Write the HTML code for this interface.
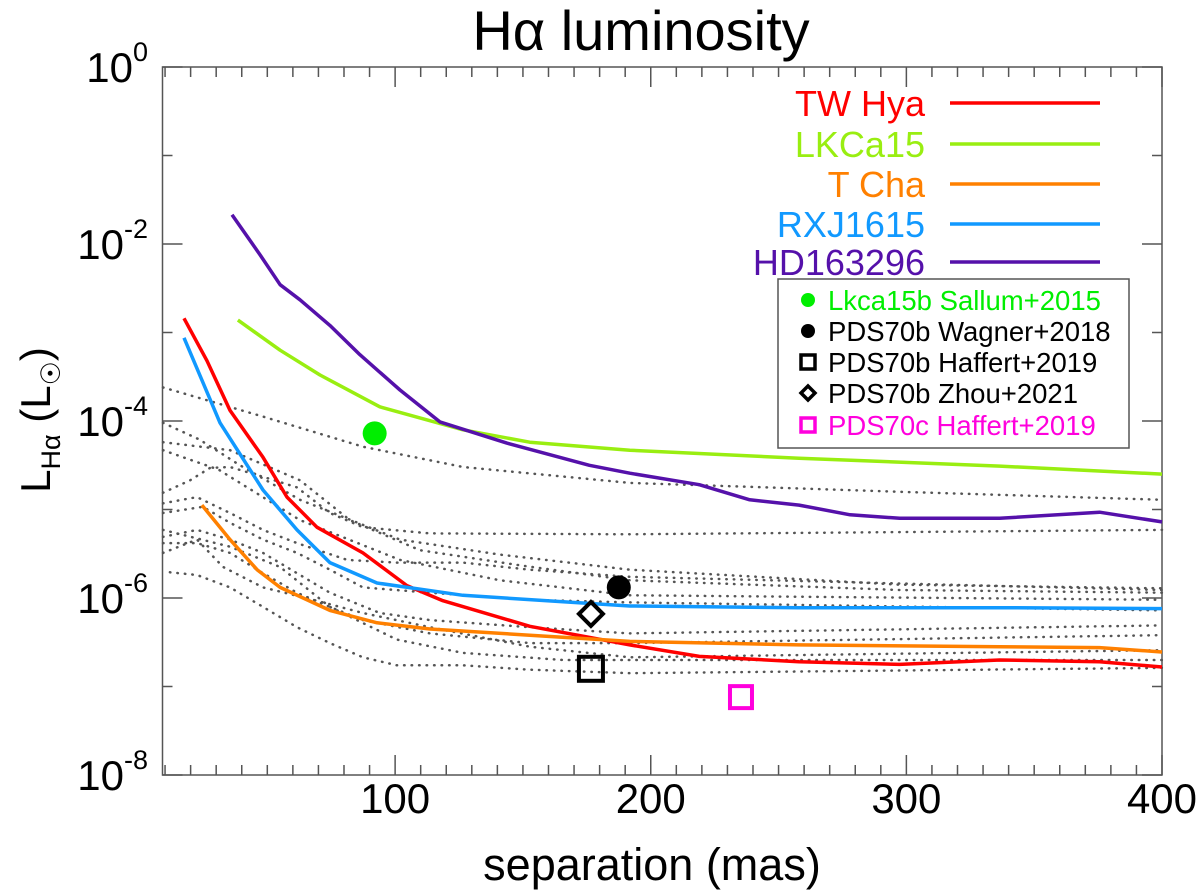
<!DOCTYPE html>
<html><head><meta charset="utf-8"><style>
html,body{margin:0;padding:0;background:#fff;}
svg{display:block;font-family:"Liberation Sans",sans-serif;}
</style></head><body>
<svg id="chart" width="1200" height="895" viewBox="0 0 1200 895" xmlns="http://www.w3.org/2000/svg">
<text x="641" y="50" font-size="56" text-anchor="middle">Hα luminosity</text>
<text x="652" y="880" font-size="45" text-anchor="middle">separation (mas)</text>
<g transform="translate(50,420) rotate(-90)">
<text font-size="42" text-anchor="middle">L<tspan font-size="27" dy="10">Hα</tspan><tspan dy="-10"> (L</tspan><tspan font-size="27" dy="10">☉</tspan><tspan dy="-10">)</tspan></text>
</g>
<g id="plot"></g>
</svg>
<script>
// axis ranges
const xDomain = [9, 400];
const yDomainLog = [-8, 0];
const xTickValues = [100, 200, 300, 400];
const xTickLabels = ["100", "200", "300", "400"];
const yTickExps = [0, -2, -4, -6, -8];
const yTickLabels = ["0", "-2", "-4", "-6", "-8"];

// series (x in mas, y as log10 L)
const twHyaX = [17.4,26.4,35.4,48.3,57.7,69.4,87.4,104.6,118.7,152.7,191.8,219,258,297.4,336.5,375.6,400];
const twHyaY = [-2.84,-3.32,-3.88,-4.41,-4.86,-5.20,-5.49,-5.86,-6.03,-6.32,-6.53,-6.66,-6.72,-6.75,-6.70,-6.72,-6.78];
const rxjX = [17.4,31.5,48.3,61.6,74.5,92.9,126.5,191.8,258,336.5,400];
const rxjY = [-3.06,-4.02,-4.78,-5.23,-5.60,-5.83,-5.97,-6.09,-6.11,-6.11,-6.12];
const tchaX = [24.4,35.4,46,55,74.5,92.9,113.6,152.7,191.8,258,336.5,375.6,400];
const tchaY = [-4.95,-5.34,-5.68,-5.88,-6.14,-6.28,-6.35,-6.42,-6.49,-6.53,-6.55,-6.56,-6.61];
const lkcaX = [38.5,55,70.6,94,126.5,152.7,191.8,258,336.5,400];
const lkcaY = [-2.86,-3.20,-3.48,-3.84,-4.10,-4.24,-4.33,-4.42,-4.51,-4.60];
const hdX = [36.2,47.1,55,62.8,74.5,86.2,101.9,117.5,143.7,176,191.8,219,238.7,258,278,297.4,336.5,375.6,400];
const hdY = [-1.67,-2.12,-2.46,-2.63,-2.92,-3.25,-3.65,-4.01,-4.25,-4.50,-4.59,-4.72,-4.89,-4.95,-5.06,-5.10,-5.10,-5.03,-5.14];

// dotted comparison curves
const dot1X=[9.2,48.3,87.4,126.5,191.8,297.4,400]; const dot1Y=[-3.62,-3.95,-4.29,-4.52,-4.70,-4.80,-4.89];
const dot2X=[9.2,23.5,39.3,62.8,101.9,141,191.8,297.4,400]; const dot2Y=[-4.02,-4.21,-4.50,-4.89,-5.34,-5.51,-5.68,-5.85,-5.89];
const dot3X=[9.2,35.4,62.8,82.3,109.7,148.8,191.8,297.4,400]; const dot3Y=[-4.24,-4.33,-4.67,-5.12,-5.46,-5.63,-5.80,-5.91,-5.94];
const dot4X=[9.2,31,62.8,101.9,141,191.8,400]; const dot4Y=[-4.33,-4.55,-5.12,-5.57,-5.80,-5.97,-6.02];
const dot5X=[9.2,19.8,27.6,35.4,48.3,61.6,74.5,87.4,113.6,191.8,400]; const dot5Y=[-4.81,-4.67,-4.53,-4.52,-4.63,-4.75,-5.04,-5.20,-5.27,-5.28,-5.23];
const dot6X=[9.2,22.5,35.4,48.3,61.6,81.2,100.7,126.5,152.7,191.8,400]; const dot6Y=[-4.93,-4.86,-5.04,-5.23,-5.38,-5.57,-5.60,-5.60,-5.68,-5.76,-5.91];
const dot7X=[9.2,24.8,35.4,48.3,61.6,74.5,87.4,113.6,152.7,191.8,400]; const dot7Y=[-5.04,-4.97,-5.15,-5.34,-5.49,-5.68,-5.88,-5.94,-6.02,-6.05,-6.14];
const dot8X=[9.2,22.5,35.4,48.3,61.6,74.5,94,113.6,152.7,191.8,400]; const dot8Y=[-5.31,-5.23,-5.34,-5.49,-5.72,-5.94,-6.17,-6.25,-6.33,-6.40,-6.31];
const dot9X=[9.2,22.5,35.4,48.3,61.6,74.5,87.4,113.6,152.7,191.8,400]; const dot9Y=[-5.38,-5.38,-5.49,-5.72,-5.94,-6.10,-6.25,-6.40,-6.51,-6.51,-6.42];
const dot10X=[9.2,22.5,32.7,48.3,67.9,87.4,113.6,152.7,191.8,400]; const dot10Y=[-5.49,-5.34,-5.65,-5.88,-6.02,-6.17,-6.33,-6.55,-6.67,-6.59];
const dot11X=[11.9,22.5,35.4,48.3,61.6,74.5,87.4,100.7,126.5,152.7,191.8,400]; const dot11Y=[-5.71,-5.74,-5.88,-6.10,-6.33,-6.51,-6.67,-6.76,-6.76,-6.81,-6.85,-6.79];
const dot12X=[9.2,35.4,55,74.5,100.7,126.5,165.6,191.8,400]; const dot12Y=[-5.23,-5.42,-5.65,-6.10,-6.47,-6.62,-6.70,-6.70,-6.70];

// planet detections
const markerNames = ["Lkca15b Sallum+2015","PDS70b Wagner+2018","PDS70b Haffert+2019","PDS70b Zhou+2021","PDS70c Haffert+2019"];
const markerX = [92, 187.5, 176.6, 176.6, 235.3];
const markerY = [-4.14, -5.88, -6.80, -6.18, -7.12];

const L=162.5, R=1162, T=67, B=775;
const NS="http://www.w3.org/2000/svg";
const plot=document.getElementById('plot');
function sx(v){return L+(v-xDomain[0])/(xDomain[1]-xDomain[0])*(R-L);}
function sy(l){return T+(yDomainLog[1]-l)/(yDomainLog[1]-yDomainLog[0])*(B-T);}
function mk(tag,attrs,parent){const e=document.createElementNS(NS,tag);for(const k in attrs)e.setAttribute(k,attrs[k]);(parent||plot).appendChild(e);return e;}

const frame=mk('rect',{x:L,y:T,width:R-L,height:B-T,fill:'none',stroke:'#555','stroke-width':1.5});



for(let v=10; v<=400; v+=10){
  const major = v%100===0;
  const len = major?20:10;
  const X=sx(v);
  const t1=mk('line',{x1:X,x2:X,y1:B,y2:B-len,stroke:'#555','stroke-width':1.5});
  
  
  const t2=mk('line',{x1:X,x2:X,y1:T,y2:T+len,stroke:'#555','stroke-width':1.5});
  
  
}
xTickValues.forEach((v,i)=>{
  const t=mk('text',{x:sx(v),y:813,'font-size':42,'text-anchor':'middle'});
  t.textContent=xTickLabels[i];
  
  
});
for(let e=0; e>=-8; e--){
  const major = e%2===0;
  const len = major?20:10;
  const Y=sy(e);
  const t1=mk('line',{x1:L,x2:L+len,y1:Y,y2:Y,stroke:'#555','stroke-width':1.5});
  
  
  const t2=mk('line',{x1:R,x2:R-len,y1:Y,y2:Y,stroke:'#555','stroke-width':1.5});
  
  
}
yTickExps.forEach((e,i)=>{
  const t=mk('text',{x:148,y:sy(e)+15,'font-size':42,'text-anchor':'end'});
  t.innerHTML='10<tspan font-size="27" dy="-21">'+yTickLabels[i]+'</tspan>';
  
  
});

function pathD(xs,ys){return xs.map((x,i)=>(i?'L':'M')+sx(x).toFixed(1)+','+sy(ys[i]).toFixed(1)).join(' ');}
const dots=[[dot1X,dot1Y],[dot2X,dot2Y],[dot3X,dot3Y],[dot4X,dot4Y],[dot5X,dot5Y],[dot6X,dot6Y],[dot7X,dot7Y],[dot8X,dot8Y],[dot9X,dot9Y],[dot10X,dot10Y],[dot11X,dot11Y],[dot12X,dot12Y]];
dots.forEach((d,i)=>{
  const p=mk('path',{d:pathD(d[0],d[1]),fill:'none',stroke:'#555','stroke-width':2.5,'stroke-dasharray':'0.5,7','stroke-linecap':'round'});
  
  
});
const series=[
  ['tw-hya-line',twHyaX,twHyaY,'#ff0000'],
  ['lkca15-line',lkcaX,lkcaY,'#99ee11'],
  ['t-cha-line',tchaX,tchaY,'#ff8000'],
  ['rxj1615-line',rxjX,rxjY,'#1199ff'],
  ['hd163296-line',hdX,hdY,'#5511aa']
];
series.forEach(s=>{
  const p=mk('path',{d:pathD(s[1],s[2]),fill:'none',stroke:s[3],'stroke-width':3.5,'stroke-linejoin':'round'});
  
  
});

function drawMarker(kind,cx,cy,size,sw,parent){
  let e;
  if(kind===0) e=mk('circle',{cx:cx,cy:cy,r:size,fill:'#00ee00'},parent);
  else if(kind===1) e=mk('circle',{cx:cx,cy:cy,r:size,fill:'#000'},parent);
  else if(kind===2) e=mk('rect',{x:cx-size,y:cy-size,width:2*size,height:2*size,fill:'none',stroke:'#000','stroke-width':sw},parent);
  else if(kind===3) e=mk('polygon',{points:`${cx},${cy-size} ${cx+size},${cy} ${cx},${cy+size} ${cx-size},${cy}`,fill:'none',stroke:'#000','stroke-width':sw},parent);
  else e=mk('rect',{x:cx-size,y:cy-size,width:2*size,height:2*size,fill:'none',stroke:'#ff00dd','stroke-width':sw},parent);
  return e;
}
const mSizes=[12,12,12,12,11];
markerX.forEach((x,i)=>{
  const e=drawMarker(i,sx(x),sy(markerY[i]),mSizes[i],4);
  
  
});

const legNames=['TW Hya','LKCa15','T Cha','RXJ1615','HD163296'];
const legY=[103,144,184,224,262];
series.forEach((s,i)=>{
  const t=mk('text',{x:925,y:legY[i]+13,'font-size':36,'text-anchor':'end',fill:s[3]});
  t.textContent=legNames[i];
  
  
  const l=mk('line',{x1:950,x2:1100,y1:legY[i],y2:legY[i],stroke:s[3],'stroke-width':3.5});
  
  
});
const box=mk('rect',{x:778,y:279,width:351,height:169,fill:'#fff',stroke:'#555','stroke-width':1.5});


const mRowY=[300,331,362,393,425];
const mCols=['#00ee00','#000','#000','#000','#ff00dd'];
const lSizes=[7,7,7,7,7];
markerNames.forEach((n,i)=>{
  const e=drawMarker(i,808,mRowY[i],lSizes[i],3.5);
  
  
  const t=mk('text',{x:828,y:mRowY[i]+10,'font-size':27.5,fill:mCols[i]});
  t.textContent=n;
  
  
});
</script>
</body></html>
